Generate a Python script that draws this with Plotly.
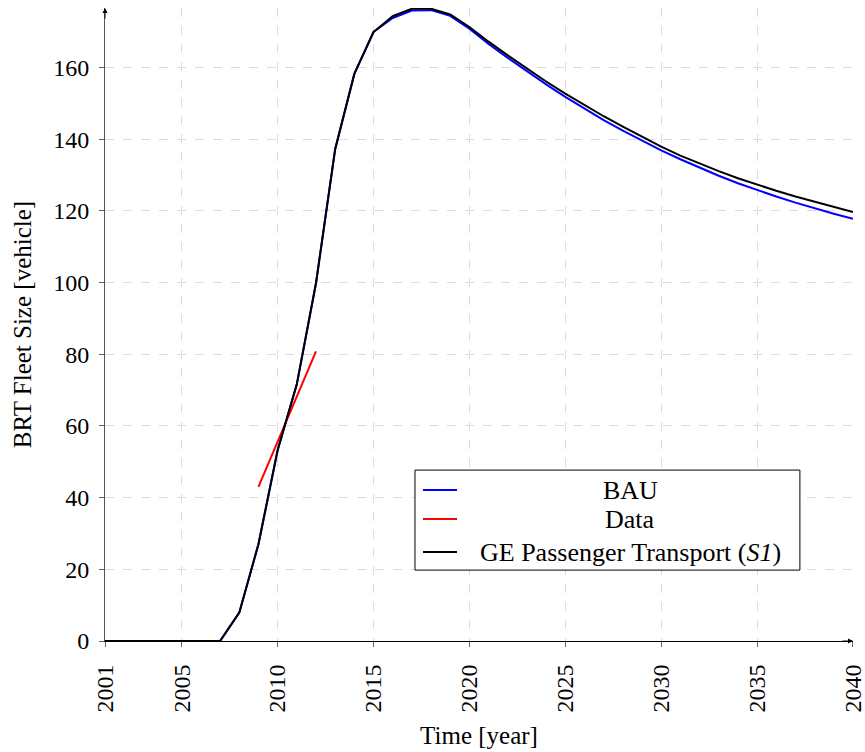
import plotly.graph_objects as go

years = list(range(2001, 2041))

bau = [0, 0, 0, 0, 0, 0, 0, 7.9, 27.0, 53.2, 71.6, 99.8, 137.2, 158.2, 169.9,
       173.8, 175.9, 176.0, 174.4, 170.8, 166.6, 162.7, 158.9, 155.3, 151.8,
       148.5, 145.3, 142.4, 139.6, 136.9, 134.4, 132.0, 129.8, 127.7, 125.8,
       124.0, 122.3, 120.7, 119.2, 117.8]

ge_s1 = [0, 0, 0, 0, 0, 0, 0, 7.9, 27.0, 53.2, 71.6, 99.8, 137.2, 158.2, 169.9,
         174.3, 176.4, 176.4, 174.8, 171.3, 167.2, 163.4, 159.7, 156.1, 152.7,
         149.5, 146.4, 143.5, 140.6, 137.9, 135.4, 133.2, 131.1, 129.1, 127.3,
         125.6, 124.0, 122.5, 121.0, 119.7]

data_years = [2009, 2010, 2011, 2012]
data_vals = [43.0, 55.6, 68.2, 80.8]

x_ticks = [2001, 2005, 2010, 2015, 2020, 2025, 2030, 2035, 2040]
y_ticks = [0, 20, 40, 60, 80, 100, 120, 140, 160]

legend_names = ["BAU", "Data", "GE Passenger Transport (<i>S1</i>)"]
legend_colors = ["#0000ff", "#ff0000", "#000000"]

FONT = "Liberation Serif"
TICKFONT = dict(family=FONT, size=24, color="#000000")
TITLEFONT = dict(family=FONT, size=25, color="#000000")

fig = go.Figure()
fig.add_trace(go.Scatter(x=years, y=bau, mode="lines", name="BAU",
                         line=dict(color="#0000ff", width=2)))
fig.add_trace(go.Scatter(x=data_years, y=data_vals, mode="lines", name="Data",
                         line=dict(color="#ff0000", width=2)))
fig.add_trace(go.Scatter(x=years, y=ge_s1, mode="lines", name="GE Passenger Transport (S1)",
                         line=dict(color="#000000", width=2)))

grid = dict(showgrid=True, gridcolor="#dcdcdc", griddash="dash", gridwidth=1)

fig.update_layout(
    width=865, height=752,
    margin=dict(l=105, r=12, t=8, b=111, autoexpand=False),
    paper_bgcolor="white", plot_bgcolor="white",
    showlegend=False,
    font=dict(family=FONT, size=25, color="#000000"),
    xaxis=dict(range=[2000.999, 2040.002], tickvals=x_ticks, ticktext=[str(v) for v in x_ticks],
               tickangle=-90, tickfont=TICKFONT, ticklabelstandoff=8,
               ticklabeloverflow="allow",
               showline=True, linecolor="#000000", linewidth=1,
               ticks="outside", ticklen=5, tickcolor="#666666", zeroline=False,
               title=dict(text="Time [year]", standoff=14, font=TITLEFONT), **grid),
    yaxis=dict(range=[0, 176.6], tickvals=y_ticks, tickfont=TICKFONT, ticklabelstandoff=5,
               showline=True, linecolor="#555555",
               linewidth=1, ticks="outside", ticklen=5, tickcolor="#666666", zeroline=False,
               title=dict(text="BRT Fleet Size [vehicle]", standoff=14, font=TITLEFONT), **grid),
)

# axis arrows
fig.add_annotation(x=1, y=0, xref="paper", yref="paper", ax=-12, ay=0,
                   axref="pixel", ayref="pixel", showarrow=True, arrowhead=2,
                   arrowsize=1, arrowwidth=1, arrowcolor="#000000", text="")
fig.add_annotation(x=0, y=1, xref="paper", yref="paper", ax=0, ay=12,
                   axref="pixel", ayref="pixel", showarrow=True, arrowhead=2,
                   arrowsize=1, arrowwidth=1, arrowcolor="#000000", text="")

# custom legend (centered labels, as in the reference)
x0, x1 = 0.4144, 0.929
y0, y1 = 0.112, 0.270
fig.add_shape(type="rect", xref="paper", yref="paper", x0=x0, x1=x1, y0=y0, y1=y1,
              line=dict(color="#000000", width=1), fillcolor="white", layer="above")
rows = [0.2385, 0.1927, 0.1406]
for name, color, ry in zip(legend_names, legend_colors, rows):
    fig.add_shape(type="line", xref="paper", yref="paper", x0=0.4251, x1=0.4706,
                  y0=ry, y1=ry, line=dict(color=color, width=2), layer="above")
    fig.add_annotation(x=0.702, y=ry, xref="paper", yref="paper", text=name,
                       showarrow=False, xanchor="center", yanchor="middle",
                       font=dict(family=FONT, size=26, color="#000000"))

fig.write_html("out.html")
